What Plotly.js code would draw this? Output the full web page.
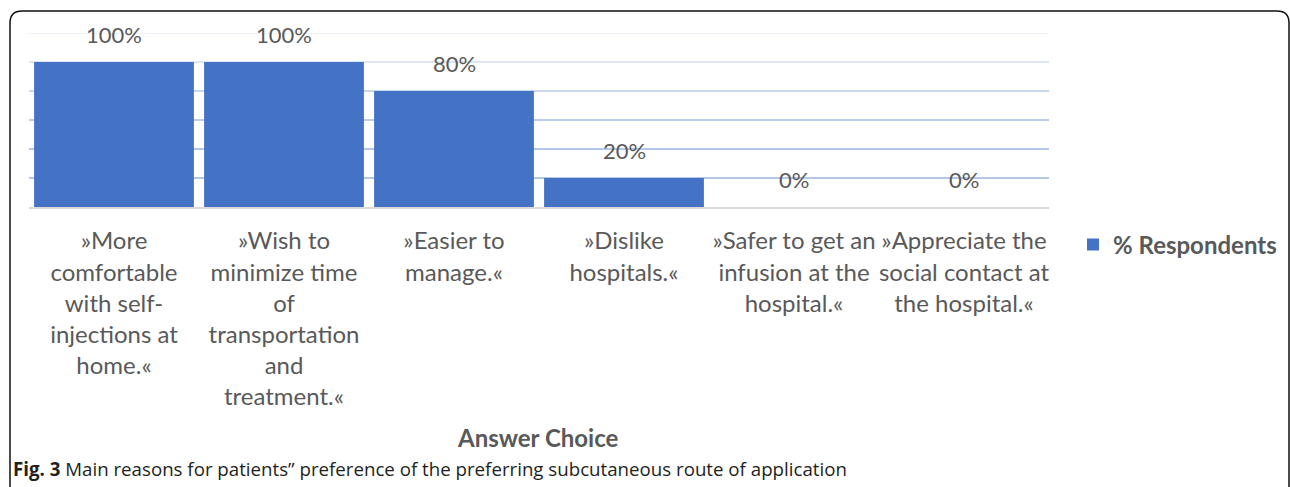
<!DOCTYPE html>
<html>
<head>
<meta charset="utf-8">
<script src="https://cdn.plot.ly/plotly-3.0.1.min.js"></script>
<style>
html,body{margin:0;padding:0;background:#fff;}
#chart{width:1290px;height:487px;}
</style>
</head>
<body>
<div id="chart"></div>
<script>
// ---- data ----
const categories = [
  "»More<br>comfortable<br>with self-<br>injections at<br>home.«",
  "»Wish to<br>minimize time<br>of<br>transportation<br>and<br>treatment.«",
  "»Easier to<br>manage.«",
  "»Dislike<br>hospitals.«",
  "»Safer to get an<br>infusion at the<br>hospital.«",
  "»Appreciate the<br>social contact at<br>the hospital.«"
];
const respondents = [100, 100, 80, 20, 0, 0];
const seriesName = "% Respondents";
const xTitle = "Answer Choice";
const gridValues = [20, 40, 60, 80, 100, 120];
const gridColors = ["#b4c7e7", "#b4c7e7", "#bccdea", "#cad8ef", "#dce6f4", "#eef3fa"];
const caption = "<b>Fig. 3</b> Main reasons for patients\u201d preference of the preferring subcutaneous route of application";

// ---- layout helpers ----
const W = 1290, H = 487;
const M = {l: 29, r: 241, t: 33, b: 280, autoexpand: false};
const PW = W - M.l - M.r, PH = H - M.t - M.b;
const px = x => (x - M.l) / PW;
const py = y => (H - M.b - y) / PH;

const textColor = "#595959";
const font = "Lato, 'Open Sans', sans-serif";

const trace = {
  type: "bar",
  x: categories,
  y: respondents,
  name: seriesName,
  marker: {color: "#4472c4"},
  hoverinfo: "none",
  cliponaxis: false
};

const shapes = gridValues.map((v, i) => ({
  type: "line", xref: "paper", yref: "y", x0: 0, x1: 1, y0: v, y1: v,
  line: {color: gridColors[i], width: 2}, layer: "below"
}));

// frame
const r = 12;
const fx0 = 10, fy0 = 11, fx1 = 1289, fy1 = 520;
const path = `M ${px(fx0)},${py(fy1)} L ${px(fx0)},${py(fy0 + r)} Q ${px(fx0)},${py(fy0)} ${px(fx0 + r)},${py(fy0)} ` +
             `L ${px(fx1 - r)},${py(fy0)} Q ${px(fx1)},${py(fy0)} ${px(fx1)},${py(fy0 + r)} L ${px(fx1)},${py(fy1)}`;
shapes.push({type: "path", xref: "paper", yref: "paper", path: path,
  line: {color: "#111", width: 1.5}, layer: "above"});

const annotations = categories.map((c, i) => ({
  x: c, y: respondents[i], xref: "x", yref: "y",
  text: respondents[i] + "%", showarrow: false,
  yanchor: "bottom", yshift: 12,
  font: {family: font, size: 22, color: textColor}
}));
annotations.push({
  xref: "paper", yref: "paper", x: px(538), y: py(437),
  xanchor: "center", yanchor: "middle", showarrow: false,
  text: "<b>" + xTitle + "</b>",
  font: {family: font, size: 24, color: textColor}
});
annotations.push({
  xref: "paper", yref: "paper", x: px(11), y: py(468),
  xanchor: "left", yanchor: "middle", showarrow: false,
  text: caption,
  font: {family: "'Open Sans', sans-serif", size: 18.7, color: "#231f20"}
});

const layout = {
  width: W, height: H,
  margin: M,
  paper_bgcolor: "#fff", plot_bgcolor: "#fff",
  bargap: 0.06,
  showlegend: true,
  legend: {
    x: px(1073), y: py(245), xanchor: "left", yanchor: "middle",
    font: {family: font, size: 24, color: textColor, weight: "bold"},
    bgcolor: "rgba(0,0,0,0)"
  },
  xaxis: {
    type: "category",
    showgrid: false, zeroline: false,
    showline: true, linecolor: "#d9d9d9", linewidth: 1.5,
    ticks: "", ticklabelstandoff: 12, tickangle: 0,
    tickfont: {family: font, size: 24, color: textColor},
    automargin: false,
    fixedrange: true
  },
  yaxis: {
    range: [0, 120], showgrid: false, zeroline: false,
    showticklabels: false, showline: false, ticks: "",
    automargin: false,
    fixedrange: true
  },
  shapes: shapes,
  annotations: annotations
};

Plotly.newPlot("chart", [trace], layout, {displayModeBar: false, staticPlot: true});
</script>
</body>
</html>
